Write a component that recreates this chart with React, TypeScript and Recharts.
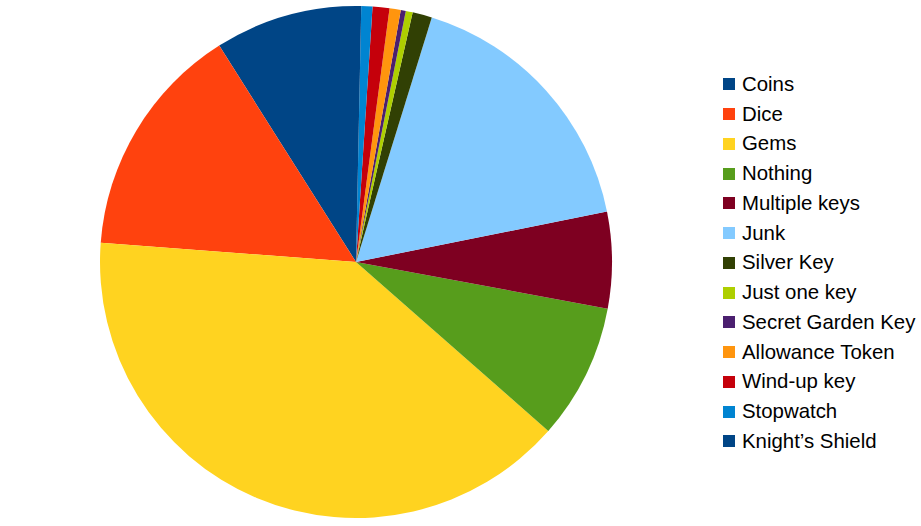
import React from "react";
import { PieChart, Pie, Legend } from "recharts";

const names = [
  "Coins",
  "Dice",
  "Gems",
  "Nothing",
  "Multiple keys",
  "Junk",
  "Silver Key",
  "Just one key",
  "Secret Garden Key",
  "Allowance Token",
  "Wind-up key",
  "Stopwatch",
  "Knight\u2019s Shield",
];

const values = [32.3, 53.4, 143.0, 30.8, 21.9, 61.4, 4.42, 1.58, 1.14, 2.55, 3.82, 2.53, 1.18];

const colors = [
  "#004586",
  "#ff420e",
  "#ffd320",
  "#579d1c",
  "#7e0021",
  "#83caff",
  "#314004",
  "#aecf00",
  "#4b1f6f",
  "#ff950e",
  "#c5000b",
  "#0084d1",
  "#004586",
];

const data = names.map((name, i) => ({ name, value: values[i], fill: colors[i] }));

const renderLegend = () => (
  <div style={{ fontFamily: "'Liberation Sans', Arial, sans-serif", fontSize: 20.4, color: "#000" }}>
    {names.map((n, i) => (
      <div key={n} style={{ display: "flex", alignItems: "center", height: 29.75, whiteSpace: "nowrap" }}>
        <span style={{ display: "inline-block", width: 12, height: 12, background: colors[i], marginRight: 7, flex: "none" }} />
        <span>{n}</span>
      </div>
    ))}
  </div>
);

export default function App() {
  return (
    <div style={{ position: "absolute", left: 0, top: 0, width: 921, height: 526, background: "#fff" }}>
      <PieChart width={921} height={526} margin={{ top: 0, right: 0, bottom: 0, left: 0 }}>
        <Pie
          data={data}
          dataKey="value"
          nameKey="name"
          cx={356}
          cy={262}
          outerRadius={256}
          innerRadius={0}
          startAngle={90}
          endAngle={450}
          stroke="none"
          isAnimationActive={false}
        />
        <Legend
          content={renderLegend}
          wrapperStyle={{ position: "absolute", left: 723, top: 69.5, width: 198, bottom: "auto" }}
        />
      </PieChart>
    </div>
  );
}
